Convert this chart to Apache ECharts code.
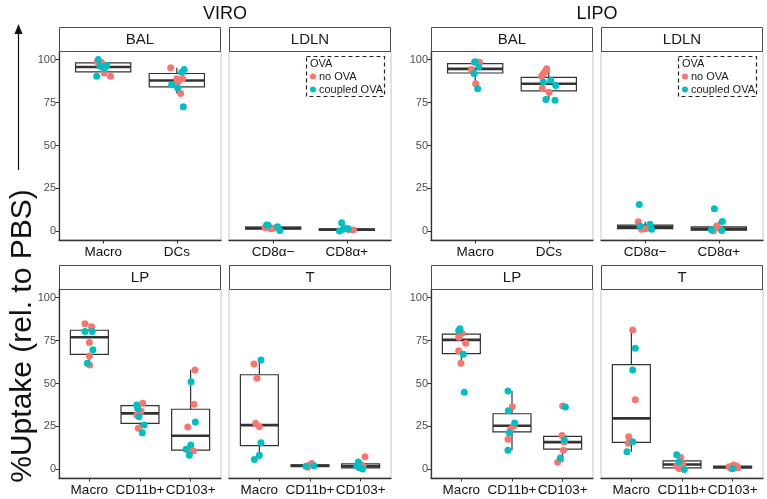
<!DOCTYPE html>
<html><head><meta charset="utf-8">
<script src="https://cdn.jsdelivr.net/npm/echarts@6/dist/echarts.min.js"></script>
<style>html,body{margin:0;padding:0;background:#fff}#c{width:767px;height:499px}</style>
</head><body><div id="c"></div>
<script>
// ---------- data ----------
const groupTitles = ['VIRO', 'LIPO'];
const stripLabels = ['BAL', 'LDLN', 'BAL', 'LDLN', 'LP', 'T', 'LP', 'T'];
const catsBAL = ['Macro', 'DCs'];
const catsLDLN = ['CD8α−', 'CD8α+'];
const catsGut = ['Macro', 'CD11b+', 'CD103+'];
const yTicks = [0, 25, 50, 75, 100];
const seriesNames = ['no OVA', 'coupled OVA'];
const legendTitle = 'OVA';
const yTitle = '%Uptake (rel. to PBS)';

// box stats per category: [lower whisker, Q1, median, Q3, upper whisker]
const boxViroBAL = [[90.3, 92.8, 95.7, 98.1, 100], [80.2, 84.1, 87.8, 91.9, 95.3]];
const boxViroLDLN = [[0.6, 1.3, 2.0, 2.5, 3.7], [0.2, 0.6, 1.0, 1.5, 2.1]];
const boxLipoBAL = [[86, 92.2, 94.6, 97.7, 98.8], [76.4, 81.8, 85.9, 89.7, 94.6]];
const boxLipoLDLN = [[1.2, 1.6, 2.6, 3.6, 5.6], [0.2, 0.7, 1.5, 2.6, 5.8]];
const boxViroLP = [[60.8, 67, 76.9, 81, 84.8], [21.3, 26.8, 32.6, 37.1, 38.5], [8.2, 11.2, 19.6, 35, 57.9]];
const boxViroT = [[5.8, 13.8, 25.8, 55.1, 63.7], [1.2, 1.6, 2.1, 2.6, 3.5], [0.3, 0.9, 1.8, 3.2, 4.3]];
const boxLipoLP = [[61.8, 67.4, 75.4, 78.7, 81.9], [11.2, 21.9, 25.4, 32.4, 45.6], [4.1, 11.8, 15.9, 19.2, 19.8]];
const boxLipoT = [[10.3, 15.7, 29.7, 61, 81.2], [0, 0.9, 2.9, 5, 8.5], [0.6, 0.9, 1.3, 1.9, 2.5]];

// jittered points: [category position (1-based, jittered), value]
const noOvaViroBAL = [[0.92, 98.8], [0.98, 98], [1.015, 92.2], [1.10, 90.3], [1.917, 95.3], [2.0, 88.8], [2.08, 88.8], [2.007, 86.8], [2.053, 80.2]];
const ovaViroBAL = [[0.933, 100], [0.957, 96.1], [1.048, 96.5], [1.015, 94.6], [0.912, 90.3], [2.10, 94.2], [2.067, 92.6], [1.93, 85.5], [2.012, 83.5], [2.088, 72.5]];
const noOvaViroLDLN = [[0.89, 2.1], [0.97, 1.5], [1.015, 2], [1.975, 2.1], [2.09, 0.8], [2.03, 1]];
const ovaViroLDLN = [[0.91, 3.7], [0.933, 3.6], [1.06, 2.7], [1.09, 0.6], [1.93, 5], [1.9, 0.2], [2.02, 1.5], [1.95, 1.2]];
const noOvaLipoBAL = [[0.99, 98.4], [1.06, 98.4], [0.95, 94.2], [1.007, 86], [1.97, 94.6], [1.95, 93.2], [1.925, 91.7], [1.903, 90.3], [1.912, 83.3], [2.003, 81]];
const ovaLipoBAL = [[1.0, 98.8], [1.05, 95.7], [0.985, 91.9], [1.034, 83], [1.925, 87], [2.026, 88], [2.094, 84.9], [1.96, 76.7], [2.084, 76.4]];
const noOvaLipoLDLN = [[0.906, 5.6], [0.952, 1.2], [1.04, 2], [1.0, 1.5], [1.97, 3.1], [1.925, 0.2], [2.0, 2]];
const ovaLipoLDLN = [[0.92, 15.7], [0.93, 3.1], [1.065, 4.1], [1.088, 1.2], [1.94, 13.2], [2.048, 5.8], [2.04, 0.6], [1.9, 1]];
const noOvaViroLP = [[0.913, 84.8], [1.045, 83.1], [1.0, 73.8], [1.0, 66], [1.006, 60.8], [2.053, 38.5], [2.02, 33.8], [1.935, 31.6], [1.966, 23.9], [3.087, 57.9], [3.067, 37.9], [2.943, 24.7], [3.053, 10.7], [2.988, 10.7]];
const ovaViroLP = [[0.913, 80.2], [1.057, 80.2], [1.07, 69.7], [0.96, 61.8], [1.935, 37.5], [1.955, 35.3], [1.98, 30.7], [2.08, 25.8], [2.045, 21.3], [3.008, 51], [3.093, 27.6], [3.002, 14.2], [2.91, 11.7], [2.974, 8.2]];
const noOvaViroT = [[0.893, 61.4], [0.953, 53], [0.927, 26.8], [1.0, 24.8], [2.034, 3.5], [1.955, 1.2], [1.986, 2.4], [3.087, 7.3], [3.008, 2.8], [3.047, 1.6]];
const ovaViroT = [[1.032, 63.7], [1.032, 15.5], [1.0, 8.3], [0.9, 5.8], [2.08, 2.2], [1.92, 1.8], [2.955, 4.3], [2.974, 0.9], [3.04, 0.3], [2.92, 2]];
const noOvaLipoLP = [[1.012, 79.3], [0.947, 76.9], [1.085, 73.4], [0.947, 69.1], [0.992, 61.8], [2.006, 36.5], [2.04, 25.2], [1.974, 23.5], [1.92, 17.5], [3.0, 36.9], [2.988, 19.8], [3.034, 15.9], [3.014, 11.1], [2.903, 4.1]];
const ovaLipoLP = [[0.972, 81.9], [0.947, 80.8], [1.038, 67], [1.057, 44.9], [1.92, 45.6], [1.927, 34.1], [2.053, 27], [1.947, 21.3], [1.92, 11.2], [3.053, 36.3], [3.034, 17.1], [2.955, 6.6]];
const noOvaLipoT = [[1.026, 81.2], [1.077, 40.6], [0.947, 19], [0.939, 15.2], [1.974, 7], [1.895, 1.9], [1.947, 0.6], [2.014, 3.5], [3.014, 2.5], [3.08, 2], [2.97, 0.6], [3.05, 1.2], [2.93, 1.5], [3.1, 1]];
const ovaLipoT = [[1.077, 70.5], [1.026, 57.9], [1.026, 16.1], [0.913, 10.3], [1.895, 8.5], [1.94, 4.4], [2.045, 0], [3.008, 0.6]];

// ---------- layout / style ----------
const COLORS = ['#F8766D', '#00BFC4'];
const FONT = '"Liberation Sans", Arial, Helvetica, sans-serif';
const colX = [59, 229, 431, 601];
const rowTop = [51, 289];
const PW = 162, PH = 189, STRIP = 24;

const panels = [
  { cats: catsBAL, box: boxViroBAL, pts: [noOvaViroBAL, ovaViroBAL], col: 0, row: 0 },
  { cats: catsLDLN, box: boxViroLDLN, pts: [noOvaViroLDLN, ovaViroLDLN], col: 1, row: 0, legend: true },
  { cats: catsBAL, box: boxLipoBAL, pts: [noOvaLipoBAL, ovaLipoBAL], col: 2, row: 0 },
  { cats: catsLDLN, box: boxLipoLDLN, pts: [noOvaLipoLDLN, ovaLipoLDLN], col: 3, row: 0, legend: true },
  { cats: catsGut, box: boxViroLP, pts: [noOvaViroLP, ovaViroLP], col: 0, row: 1 },
  { cats: catsGut, box: boxViroT, pts: [noOvaViroT, ovaViroT], col: 1, row: 1 },
  { cats: catsGut, box: boxLipoLP, pts: [noOvaLipoLP, ovaLipoLP], col: 2, row: 1 },
  { cats: catsGut, box: boxLipoT, pts: [noOvaLipoT, ovaLipoT], col: 3, row: 1 }
];

const grid = [], xAxis = [], yAxis = [], series = [], graphic = [], legend = [];

function renderBox(params, api) {
  const x = api.value(0), lo = api.value(1), q1 = api.value(2), md = api.value(3), q3 = api.value(4), hi = api.value(5);
  const hw = 0.375;
  const tl = api.coord([x - hw, q3]), br = api.coord([x + hw, q1]);
  const pHi = api.coord([x, hi]), pQ3 = api.coord([x, q3]);
  const pLo = api.coord([x, lo]), pQ1 = api.coord([x, q1]);
  const mL = api.coord([x - hw, md]), mR = api.coord([x + hw, md]);
  const st = { stroke: '#333333', lineWidth: 1.2 };
  return {
    type: 'group',
    children: [
      { type: 'line', shape: { x1: pHi[0], y1: pHi[1], x2: pQ3[0], y2: pQ3[1] }, style: st },
      { type: 'line', shape: { x1: pLo[0], y1: pLo[1], x2: pQ1[0], y2: pQ1[1] }, style: st },
      { type: 'rect', shape: { x: tl[0], y: tl[1], width: br[0] - tl[0], height: br[1] - tl[1] },
        style: { fill: '#ffffff', stroke: '#333333', lineWidth: 1.2 } },
      { type: 'line', shape: { x1: mL[0], y1: mL[1], x2: mR[0], y2: mR[1] }, style: { stroke: '#333333', lineWidth: 2.6 } }
    ]
  };
}

panels.forEach((p, i) => {
  const left = colX[p.col], top = rowTop[p.row];
  const n = p.cats.length;
  const idx = p.cats.map((c, k) => k + 1);
  const showY = (p.col === 0 || p.col === 2);
  grid.push({ left: left, top: top, width: PW, height: PH, show: true, borderColor: '#c4c4c4', borderWidth: 1, backgroundColor: '#fff', containLabel: false });
  xAxis.push({
    type: 'value', gridIndex: i, min: 0.4, max: n + 0.6,
    splitLine: { show: false },
    axisLine: { show: true, onZero: false, lineStyle: { color: '#333', width: 1.3 } },
    axisTick: { show: true, length: 3.5, customValues: idx, lineStyle: { color: '#333', width: 1 } },
    axisLabel: { show: true, customValues: idx, margin: 5, fontSize: 13.5, color: '#111', fontFamily: FONT,
      hideOverlap: false, showMinLabel: true, showMaxLabel: true,
      formatter: v => p.cats[Math.round(v) - 1] || '' }
  });
  yAxis.push({
    type: 'value', gridIndex: i, min: -5, max: 105,
    splitLine: { show: false },
    axisLine: { show: showY, onZero: false, lineStyle: { color: '#333', width: 1.3 } },
    axisTick: { show: showY, length: 3.5, customValues: yTicks, lineStyle: { color: '#333', width: 1 } },
    axisLabel: { show: showY, customValues: yTicks, margin: 3, fontSize: 11, color: '#4d4d4d', fontFamily: FONT }
  });
  series.push({
    type: 'custom', xAxisIndex: i, yAxisIndex: i, renderItem: renderBox, z: 2, silent: true,
    encode: { x: 0, y: [1, 2, 3, 4, 5] },
    data: p.box.map((b, k) => [k + 1].concat(b))
  });
  p.pts.forEach((d, g) => {
    series.push({
      type: 'scatter', name: seriesNames[g], xAxisIndex: i, yAxisIndex: i, z: 5,
      symbol: 'circle', symbolSize: 7, data: d,
      itemStyle: { color: COLORS[g], opacity: 1 }
    });
  });
  // strip
  graphic.push({ type: 'rect', silent: true, shape: { x: left + 0.5, y: top - STRIP + 0.5, width: PW - 1, height: STRIP },
    style: { fill: '#fff', stroke: '#4d4d4d', lineWidth: 1 }, z: 10 });
  graphic.push({ type: 'text', silent: true, x: left + PW / 2, y: top - STRIP / 2 + 0.5, z: 11,
    style: { text: stripLabels[i], fontSize: 15, fontFamily: FONT, fill: '#1a1a1a', align: 'center', verticalAlign: 'middle' } });
  if (p.legend) {
    const bx = left + PW - 85, by = top + 5;
    graphic.push({ type: 'rect', silent: true, shape: { x: bx + 0.5, y: by + 0.5, width: 78, height: 40 },
      style: { fill: 'rgba(255,255,255,0)', stroke: '#222', lineWidth: 1.2, lineDash: [4, 3] }, z: 10 });
    graphic.push({ type: 'text', silent: true, x: bx + 4, y: by + 7.5, z: 11,
      style: { text: legendTitle, fontSize: 11, fontFamily: FONT, fill: '#1a1a1a', align: 'left', verticalAlign: 'middle' } });
    legend.push({
      orient: 'vertical', left: bx + 4, top: by + 14.5, padding: 0, itemGap: 1,
      itemWidth: 6, itemHeight: 6, icon: 'circle', selectedMode: false,
      data: seriesNames.map(s => ({ name: s })),
      textStyle: { fontSize: 11, fontFamily: FONT, color: '#1a1a1a', padding: [0, 0, 0, -2], lineHeight: 12 }
    });
  }
});

// group titles
graphic.push({ type: 'text', silent: true, x: (colX[0] + colX[1] + PW) / 2, y: 14, style: { text: groupTitles[0], fontSize: 18, fontFamily: FONT, fill: '#111', align: 'center', verticalAlign: 'middle' } });
graphic.push({ type: 'text', silent: true, x: (colX[2] + colX[3] + PW) / 2, y: 14, style: { text: groupTitles[1], fontSize: 18, fontFamily: FONT, fill: '#111', align: 'center', verticalAlign: 'middle' } });
// y title with arrow
graphic.push({ type: 'text', silent: true, x: 23, y: 336, rotation: Math.PI / 2,
  style: { text: yTitle, fontSize: 30, fontFamily: FONT, fill: '#111', align: 'center', verticalAlign: 'middle' } });
graphic.push({ type: 'line', silent: true, shape: { x1: 18.5, y1: 170, x2: 18.5, y2: 32 }, style: { stroke: '#111', lineWidth: 1.2 } });
graphic.push({ type: 'polygon', silent: true, shape: { points: [[18.5, 24], [14.5, 34], [22.5, 34]] }, style: { fill: '#111' } });

const chart = echarts.init(document.getElementById('c'), null, { renderer: 'canvas' });
chart.setOption({
  animation: false,
  backgroundColor: '#fff',
  grid: grid, xAxis: xAxis, yAxis: yAxis, series: series, legend: legend, graphic: graphic
});
</script>
</body></html>
